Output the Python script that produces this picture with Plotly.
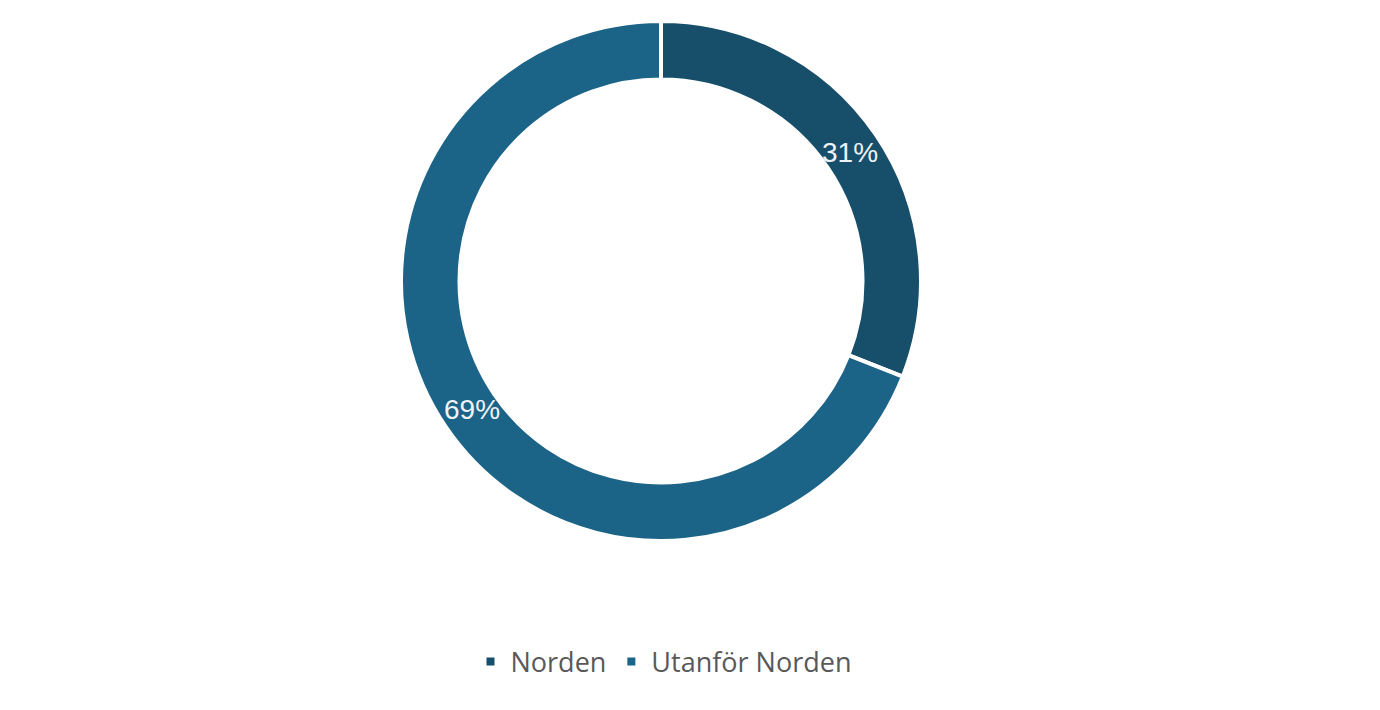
import math
import plotly.graph_objects as go

labels = ["Norden", "Utanför Norden"]
values = [31, 69]
colors = ["#174f6b", "#1b6387"]

W, H = 1380, 710
cx, cy, r = 653, 273, 260
hole = 0.775

fig = go.Figure(go.Pie(
    labels=labels,
    values=values,
    hole=hole,
    sort=False,
    direction="clockwise",
    rotation=0,
    marker=dict(colors=colors, line=dict(color="white", width=4)),
    textinfo="none",
    textposition="none",
    domain=dict(x=[(cx - r) / W, (cx + r) / W], y=[1 - (cy + r) / H, 1 - (cy - r) / H]),
    hoverinfo="label+percent",
))

# percentage labels placed at the middle of each ring segment (derived from data)
rr = 258
ring_mid = rr * (1 + hole) / 2
total = sum(values)
cum = 0
for v in values:
    theta = 2 * math.pi * (cum + v / 2) / total
    cum += v
    px = cx + ring_mid * math.sin(theta)
    py = cy - ring_mid * math.cos(theta)
    fig.add_annotation(
        x=px / W, y=1 - py / H, xref="paper", yref="paper",
        text=f"{round(100 * v / total)}%", showarrow=False,
        xanchor="center", yanchor="middle",
        font=dict(family="Liberation Sans, Arial", size=28, color="#eef3f7"),
    )

fig.update_layout(
    width=W, height=H,
    margin=dict(l=0, r=0, t=0, b=0),
    paper_bgcolor="white",
    plot_bgcolor="white",
    showlegend=True,
    legend=dict(
        orientation="h",
        x=0.475, xanchor="center",
        y=(H - 654) / H, yanchor="middle",
        font=dict(family="Open Sans, Lato, sans-serif", size=27, color="#595959"),
        itemclick=False,
    ),
)

fig.write_html("out.html")
